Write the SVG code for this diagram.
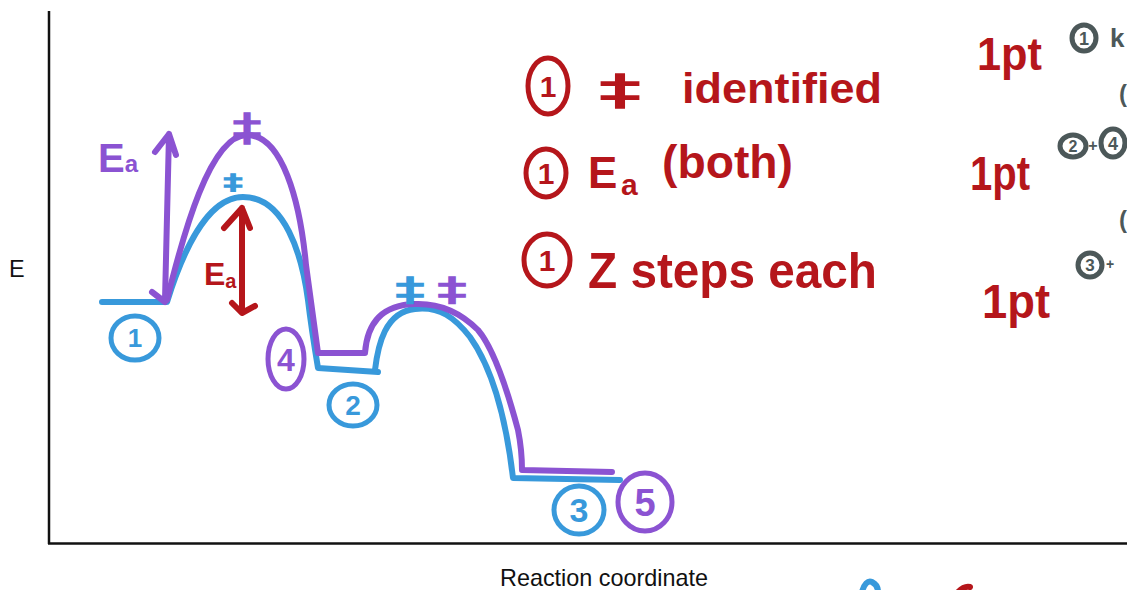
<svg xmlns="http://www.w3.org/2000/svg" width="1127" height="590" viewBox="0 0 1127 590">
  <style>
    .axis { stroke: #111; stroke-width: 2.5; fill: none; }
    .lbl { font-family: "Liberation Sans", Arial, sans-serif; font-size: 23.4px; fill: #111; }
    .ink { fill: none; stroke-width: 6; stroke-linecap: round; stroke-linejoin: round; }
    .ring { fill: none; stroke-width: 5; }
    .hand { font-family: "Liberation Sans", Arial, sans-serif; font-weight: 700; }
    .ts { font-family: "DejaVu Sans", sans-serif; font-weight: 400; text-anchor: middle; stroke-width: 1.6; }
    .blue { stroke: #3899db; }
    .purple { stroke: #8b53d2; }
    .red { stroke: #b5161b; }
    .gray { stroke: #4c5859; }
    .fb { fill: #3899db; }
    .fp { fill: #8b53d2; }
    .fr { fill: #b5161b; }
    .fg { fill: #4c5859; }
    .mid { text-anchor: middle; }
  </style>

  <rect width="1127" height="590" fill="#ffffff"/>

  <!-- plot frame and axis titles -->
  <g id="axes">
    <line class="axis" x1="49" y1="11" x2="49" y2="544"/>
    <line class="axis" x1="48" y1="543.5" x2="1127" y2="543.5" stroke="#333"/>
    <text class="lbl" x="9" y="277">E</text>
    <text class="lbl" x="500" y="586">Reaction coordinate</text>
  </g>

  <!-- energy profiles -->
  <g id="connectors">
    <!-- one-step (blue) path -->
    <path class="ink blue" d="M102,302 L167,302 C180,260 205,197 243,197 C285,197 302,255 308,300 C311,325 315,350 318,368 L378,372"/>
    <path class="ink blue" d="M375,370 C378,345 385,312 415,309 C440,306 455,318 470,337 C490,365 505,410 513,478 L620,480"/>
    <!-- stepwise (purple) path -->
    <path class="ink purple" d="M167,300 C183,235 210,135 247,135 C282,135 300,200 306,265 L318,353 L365,353 C367,325 380,305 415,304 C440,303 460,312 478,330 C495,350 510,400 518,430 C521,445 522,460 522,470 L612,472"/>
    <!-- activation energy arrows -->
    <path class="ink purple" d="M169,134 L165,300 M155,152 L169,134 L176,155 M152,292 L165,302"/>
    <path class="ink red" d="M242,208 L242,310 M224,228 L242,208 L250,228 M232,303 L242,313 L255,306"/>
  </g>

  <!-- transition state marks -->
  <g id="ts-marks">
    <text class="ts fp purple" x="247" y="140" font-size="38" textLength="28" lengthAdjust="spacingAndGlyphs">‡</text>
    <text class="ts fb blue" x="233" y="190" font-size="22" textLength="18" lengthAdjust="spacingAndGlyphs">‡</text>
    <text class="ts fb blue" x="410" y="300" font-size="32" textLength="28" lengthAdjust="spacingAndGlyphs">‡</text>
    <text class="ts fp purple" x="452" y="300" font-size="32" textLength="28" lengthAdjust="spacingAndGlyphs">‡</text>
  </g>

  <!-- Ea labels -->
  <g id="ea-labels">
    <text class="hand fp" x="98" y="172"><tspan font-size="40">E</tspan><tspan font-size="24">a</tspan></text>
    <text class="hand fr" x="204" y="285"><tspan font-size="32">E</tspan><tspan font-size="20" dy="3">a</tspan></text>
  </g>

  <!-- numbered species -->
  <g id="state-1">
    <ellipse class="ring blue" cx="135" cy="338" rx="24" ry="22"/>
    <text class="hand fb mid" x="135" y="347" font-size="26">1</text>
  </g>
  <g id="state-4">
    <ellipse class="ring purple" cx="286" cy="359" rx="18" ry="30"/>
    <text class="hand fp mid" x="286" y="371" font-size="32">4</text>
  </g>
  <g id="state-2">
    <ellipse class="ring blue" cx="353" cy="405" rx="24" ry="21"/>
    <text class="hand fb mid" x="353" y="415" font-size="28">2</text>
  </g>
  <g id="state-3">
    <ellipse class="ring blue" cx="579" cy="510" rx="25" ry="24"/>
    <text class="hand fb mid" x="579" y="522" font-size="34">3</text>
  </g>
  <g id="state-5">
    <ellipse class="ring purple" cx="645" cy="502" rx="27" ry="29"/>
    <text class="hand fp mid" x="645" y="516" font-size="38">5</text>
  </g>

  <!-- grading notes -->
  <g id="rubric">
    <ellipse class="ring red" cx="548" cy="86" rx="20" ry="28"/>
    <text class="hand fr mid" x="548" y="97" font-size="30">1</text>
    <text class="ts fr red" x="620" y="104" font-size="40" textLength="40" lengthAdjust="spacingAndGlyphs">‡</text>
    <text class="hand fr" x="682" y="103" font-size="42" textLength="200" lengthAdjust="spacingAndGlyphs">identified</text>

    <ellipse class="ring red" cx="546" cy="173" rx="20" ry="24"/>
    <text class="hand fr mid" x="546" y="184" font-size="30">1</text>
    <text class="hand fr" x="588" y="188" font-size="44">E</text>
    <text class="hand fr" x="621" y="195" font-size="30">a</text>
    <text class="hand fr" x="662" y="178" font-size="46" textLength="131" lengthAdjust="spacingAndGlyphs">(both)</text>

    <ellipse class="ring red" cx="547" cy="260" rx="23" ry="26"/>
    <text class="hand fr mid" x="547" y="271" font-size="30">1</text>
    <text class="hand fr" x="588" y="288" font-size="50" textLength="289" lengthAdjust="spacingAndGlyphs">Z steps each</text>
  </g>

  <!-- points column -->
  <g id="points">
    <text class="hand fr" x="977" y="70" font-size="46" textLength="65" lengthAdjust="spacingAndGlyphs">1pt</text>
    <text class="hand fr" x="970" y="190" font-size="48" textLength="60" lengthAdjust="spacingAndGlyphs">1pt</text>
    <text class="hand fr" x="982" y="318" font-size="48" textLength="68" lengthAdjust="spacingAndGlyphs">1pt</text>
  </g>

  <!-- side notes -->
  <g id="side-notes">
    <ellipse class="ring gray" cx="1084" cy="38" rx="12" ry="13" stroke-width="3.5"/>
    <text class="hand fg mid" x="1084" y="45" font-size="18">1</text>
    <text class="hand fg" x="1110" y="47" font-size="26">k</text>
    <text class="hand fg" x="1119" y="102" font-size="24">(</text>

    <ellipse class="ring gray" cx="1073" cy="146" rx="13" ry="11" stroke-width="3.5"/>
    <text class="hand fg mid" x="1073" y="152" font-size="16">2</text>
    <text class="hand fg mid" x="1093" y="151" font-size="16">+</text>
    <ellipse class="ring gray" cx="1113" cy="143" rx="12" ry="14" stroke-width="3.5"/>
    <text class="hand fg mid" x="1113" y="150" font-size="18">4</text>
    <text class="hand fg" x="1119" y="228" font-size="24">(</text>

    <ellipse class="ring gray" cx="1090" cy="265" rx="12" ry="12" stroke-width="3.5"/>
    <text class="hand fg mid" x="1090" y="271" font-size="17">3</text>
    <text class="hand fg mid" x="1110" y="269" font-size="14">+</text>
  </g>

  <!-- marks at the lower edge -->
  <g id="edge-marks">
    <path class="ink blue" d="M862,592 C864,584 868,580 872,582 C876,584 878,588 878,592"/>
    <path class="ink red" d="M958,592 C962,588 966,586 970,587"/>
  </g>
</svg>
